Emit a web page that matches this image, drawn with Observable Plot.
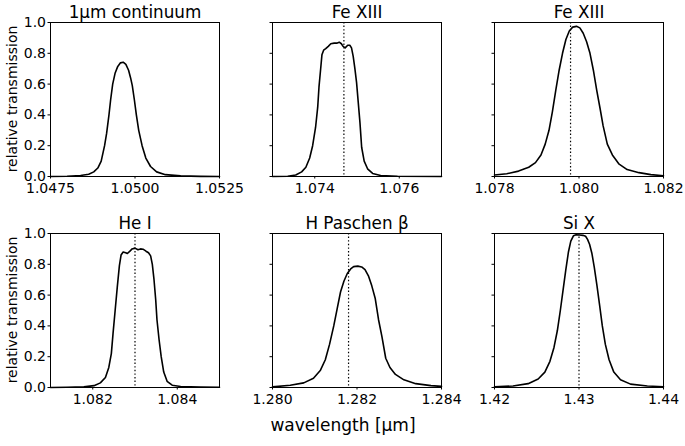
<!DOCTYPE html>
<html>
<head>
<meta charset="utf-8">
<script src="https://cdn.jsdelivr.net/npm/d3@7"></script>
<script src="https://cdn.jsdelivr.net/npm/@observablehq/plot@0.6"></script>
<style>
  html, body { margin: 0; padding: 0; background: white; }
  #chart { position: relative; width: 685px; height: 446px; background: white; font-family: "DejaVu Sans", sans-serif; color: black; overflow: hidden; }
  .panel { position: absolute; }
  .lbl { position: absolute; white-space: nowrap; line-height: 1; }
</style>
</head>
<body>
<div id="chart"></div>
<script>
// ---- Data ----
const titles = ["1μm continuum", "Fe XIII", "Fe XIII", "He I", "H Paschen β", "Si X"];
const lineCenters = [null, 1.07469, 1.0798, 1.083, 1.2818, 1.43];
const xDomains = [[1.0475, 1.0525], [1.073, 1.077], [1.078, 1.082], [1.081, 1.085], [1.280, 1.284], [1.42, 1.44]];
const xTicks = [[1.0475, 1.05, 1.0525], [1.074, 1.076], [1.078, 1.08, 1.082], [1.082, 1.084], [1.28, 1.282, 1.284], [1.42, 1.43, 1.44]];
const xTickLabels = [["1.0475", "1.0500", "1.0525"], ["1.074", "1.076"], ["1.078", "1.080", "1.082"], ["1.082", "1.084"], ["1.280", "1.282", "1.284"], ["1.42", "1.43", "1.44"]];
const yTicks = [0, 0.2, 0.4, 0.6, 0.8, 1.0];
const yTickLabels = ["0.0", "0.2", "0.4", "0.6", "0.8", "1.0"];
const yLabel = "relative transmission";
const xLabel = "wavelength [μm]";

const wl1 = [1.04750, 1.04799, 1.04839, 1.04863, 1.04878, 1.04890, 1.04900, 1.04910, 1.04916, 1.04923, 1.04928, 1.04934, 1.04941, 1.04949, 1.04957, 1.04965, 1.04973, 1.04981, 1.04987, 1.04992, 1.04998, 1.05004, 1.05011, 1.05021, 1.05032, 1.05046, 1.05064, 1.05090, 1.05135, 1.05194, 1.05250];
const tr1 = [0.000, 0.002, 0.006, 0.015, 0.030, 0.055, 0.100, 0.200, 0.280, 0.400, 0.500, 0.600, 0.670, 0.715, 0.738, 0.742, 0.728, 0.690, 0.640, 0.590, 0.500, 0.400, 0.300, 0.200, 0.120, 0.065, 0.030, 0.012, 0.004, 0.001, 0.000];

const wl2 = [1.07300, 1.07336, 1.07355, 1.07369, 1.07379, 1.07388, 1.07395, 1.07402, 1.07407, 1.07410, 1.07414, 1.07417, 1.07421, 1.07426, 1.07432, 1.07438, 1.07446, 1.07452, 1.07458, 1.07463, 1.07467, 1.07472, 1.07478, 1.07483, 1.07487, 1.07491, 1.07495, 1.07499, 1.07503, 1.07507, 1.07511, 1.07517, 1.07525, 1.07537, 1.07556, 1.07596, 1.07700];
const tr2 = [0.000, 0.002, 0.010, 0.030, 0.060, 0.120, 0.200, 0.320, 0.450, 0.580, 0.700, 0.790, 0.820, 0.830, 0.845, 0.862, 0.866, 0.866, 0.872, 0.862, 0.845, 0.835, 0.852, 0.852, 0.835, 0.780, 0.700, 0.610, 0.480, 0.350, 0.190, 0.100, 0.050, 0.020, 0.006, 0.002, 0.000];

const wl3 = [1.07800, 1.07829, 1.07857, 1.07881, 1.07897, 1.07910, 1.07920, 1.07929, 1.07937, 1.07945, 1.07953, 1.07961, 1.07969, 1.07977, 1.07985, 1.07994, 1.08002, 1.08010, 1.08018, 1.08026, 1.08034, 1.08042, 1.08050, 1.08057, 1.08067, 1.08079, 1.08095, 1.08114, 1.08142, 1.08170, 1.08200];
const tr3 = [0.010, 0.018, 0.035, 0.060, 0.090, 0.140, 0.210, 0.300, 0.420, 0.560, 0.690, 0.800, 0.890, 0.945, 0.970, 0.975, 0.965, 0.930, 0.875, 0.800, 0.690, 0.560, 0.440, 0.330, 0.210, 0.140, 0.080, 0.045, 0.025, 0.012, 0.005];

const wl4 = [1.08100, 1.08139, 1.08179, 1.08203, 1.08218, 1.08230, 1.08238, 1.08244, 1.08248, 1.08253, 1.08258, 1.08263, 1.08267, 1.08272, 1.08278, 1.08282, 1.08288, 1.08293, 1.08300, 1.08307, 1.08313, 1.08319, 1.08326, 1.08332, 1.08337, 1.08341, 1.08345, 1.08349, 1.08352, 1.08357, 1.08362, 1.08368, 1.08376, 1.08388, 1.08408, 1.08455, 1.08500];
const tr4 = [0.000, 0.002, 0.004, 0.012, 0.030, 0.065, 0.130, 0.220, 0.350, 0.500, 0.650, 0.790, 0.860, 0.880, 0.875, 0.870, 0.885, 0.900, 0.905, 0.895, 0.900, 0.898, 0.885, 0.875, 0.855, 0.800, 0.700, 0.570, 0.440, 0.310, 0.200, 0.100, 0.040, 0.015, 0.006, 0.003, 0.002];

const wl5 = [1.28000, 1.28042, 1.28074, 1.28097, 1.28113, 1.28125, 1.28135, 1.28145, 1.28153, 1.28161, 1.28169, 1.28177, 1.28185, 1.28192, 1.28202, 1.28211, 1.28219, 1.28227, 1.28235, 1.28243, 1.28251, 1.28259, 1.28268, 1.28278, 1.28291, 1.28311, 1.28339, 1.28375, 1.28400];
const tr5 = [0.004, 0.015, 0.030, 0.060, 0.110, 0.180, 0.280, 0.400, 0.510, 0.620, 0.690, 0.740, 0.770, 0.785, 0.788, 0.783, 0.765, 0.725, 0.660, 0.580, 0.440, 0.330, 0.190, 0.130, 0.085, 0.050, 0.025, 0.012, 0.007];

const wl6 = [1.42000, 1.42219, 1.42398, 1.42517, 1.42596, 1.42656, 1.42704, 1.42744, 1.42779, 1.42811, 1.42843, 1.42875, 1.42903, 1.42934, 1.42966, 1.43006, 1.43046, 1.43078, 1.43101, 1.43125, 1.43153, 1.43181, 1.43213, 1.43245, 1.43276, 1.43312, 1.43356, 1.43412, 1.43491, 1.43610, 1.43809, 1.44000];
const tr6 = [0.004, 0.010, 0.025, 0.055, 0.100, 0.170, 0.260, 0.370, 0.500, 0.630, 0.760, 0.880, 0.950, 0.985, 0.992, 0.990, 0.988, 0.982, 0.962, 0.930, 0.870, 0.780, 0.660, 0.530, 0.400, 0.280, 0.180, 0.100, 0.050, 0.022, 0.010, 0.005];

const wls = [wl1, wl2, wl3, wl4, wl5, wl6];
const trs = [tr1, tr2, tr3, tr4, tr5, tr6];

// ---- Layout ----
const chart = document.getElementById("chart");
const frameW = 169, frameH = 154;
const mL = 50, mR = 40, mT = 22, mB = 34;
const colLeft = [50, 272, 494];
const rowTop = [22, 233];

for (let i = 0; i < 6; i++) {
  const col = i % 3, row = Math.floor(i / 3);
  const data = wls[i].map((w, k) => ({w, t: trs[i][k]}));
  const xl = xTickLabels[i], xt = xTicks[i];
  const marks = [
    Plot.frame({stroke: "black", strokeWidth: 1}),
  ];
  if (lineCenters[i] != null) {
    marks.push(Plot.ruleX([lineCenters[i]], {stroke: "black", strokeWidth: 1.2, strokeDasharray: "1.4,2.2"}));
  }
  marks.push(Plot.line(data, {x: "w", y: "t", stroke: "black", strokeWidth: 1.6}));
  marks.push(Plot.text([titles[i]], {frameAnchor: "top", dy: -5, lineAnchor: "bottom", fontSize: 16.8, text: d => d, fill: "black"}));
  const svg = Plot.plot({
    width: mL + frameW + mR,
    height: mT + frameH + mB,
    marginLeft: mL, marginRight: mR, marginTop: mT, marginBottom: mB,
    style: {fontFamily: "DejaVu Sans", fontSize: "14px", background: "transparent", overflow: "visible", color: "black"},
    x: {domain: xDomains[i], ticks: xt, tickFormat: d => xl[xt.indexOf(d)], tickSize: 2.5, tickPadding: 4.5, label: null},
    y: {domain: [0, 1], ticks: yTicks, tickFormat: d => col === 0 ? yTickLabels[yTicks.indexOf(d)] : "", tickSize: 2.5, tickPadding: 2, label: null},
    marks
  });
  // enforce font sizes on all texts (axis tick labels 14px, title 16.8px)
  svg.querySelectorAll("g").forEach(g => { g.removeAttribute("font-size"); g.removeAttribute("font-family"); });
  svg.querySelectorAll("text").forEach(t => {
    t.style.fontFamily = "DejaVu Sans";
    t.style.fontSize = (t.textContent === titles[i]) ? "16.8px" : "14px";
    t.setAttribute("fill", "black");
  });
  svg.classList.add("panel");
  svg.style.left = (colLeft[col] - mL) + "px";
  svg.style.top = (rowTop[row] - mT) + "px";
  chart.appendChild(svg);
}

// y labels
for (let r = 0; r < 2; r++) {
  const d = document.createElement("div");
  d.className = "lbl";
  d.textContent = yLabel;
  d.style.fontSize = "14px";
  d.style.left = "12px";
  d.style.top = (rowTop[r] + frameH / 2) + "px";
  d.style.transform = "translate(-50%, -50%) rotate(-90deg)";
  chart.appendChild(d);
}
// x label
const xd = document.createElement("div");
xd.className = "lbl";
xd.textContent = xLabel;
xd.style.fontSize = "17px";
xd.style.left = "343px";
xd.style.top = "425px";
xd.style.transform = "translate(-50%, -50%)";
chart.appendChild(xd);
</script>
</body>
</html>
